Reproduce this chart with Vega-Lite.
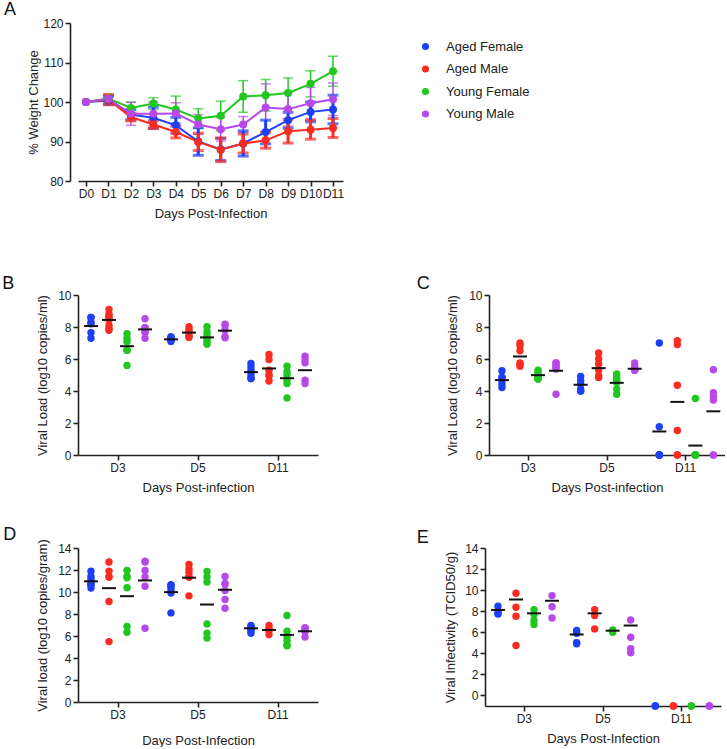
{
"$schema":"https://vega.github.io/schema/vega-lite/v6.json",
"padding":{"left":2,"top":1,"right":0,"bottom":0},
"config":{
 "font":"Liberation Sans",
 "view":{"stroke":null},
 "axis":{"domainColor":"#222","domainWidth":1.6,"tickColor":"#222","tickWidth":1.6,"tickSize":5,"labelColor":"#222","labelFontSize":12,"labelPadding":2,"titleColor":"#222","titleFontSize":13,"titleFontWeight":"normal","grid":false,"labelFont":"Liberation Sans","titleFont":"Liberation Sans"},
 "title":{"fontSize":18,"fontWeight":"normal","anchor":"start","frame":"bounds","baseline":"alphabetic","color":"#111","font":"Liberation Sans"}
},
"datasets":{
 "weight":[
  {"day":"D0","group":"Aged Female","mean":100,"sd":0},{"day":"D1","group":"Aged Female","mean":100.4,"sd":1.0},{"day":"D2","group":"Aged Female","mean":96.8,"sd":1.3},{"day":"D3","group":"Aged Female","mean":96.0,"sd":2.7},{"day":"D4","group":"Aged Female","mean":94.1,"sd":2.0},{"day":"D5","group":"Aged Female","mean":90.0,"sd":3.5},{"day":"D6","group":"Aged Female","mean":88.0,"sd":2.8},{"day":"D7","group":"Aged Female","mean":89.5,"sd":3.2},{"day":"D8","group":"Aged Female","mean":92.4,"sd":3.0},{"day":"D9","group":"Aged Female","mean":95.4,"sd":2.0},{"day":"D10","group":"Aged Female","mean":97.5,"sd":2.5},{"day":"D11","group":"Aged Female","mean":98.1,"sd":3.6},
  {"day":"D0","group":"Aged Male","mean":100,"sd":0},{"day":"D1","group":"Aged Male","mean":100.6,"sd":1.3},{"day":"D2","group":"Aged Male","mean":96.2,"sd":1.0},{"day":"D3","group":"Aged Male","mean":94.3,"sd":1.0},{"day":"D4","group":"Aged Male","mean":92.4,"sd":1.5},{"day":"D5","group":"Aged Male","mean":89.9,"sd":2.2},{"day":"D6","group":"Aged Male","mean":87.9,"sd":3.0},{"day":"D7","group":"Aged Male","mean":89.5,"sd":2.4},{"day":"D8","group":"Aged Male","mean":90.3,"sd":2.0},{"day":"D9","group":"Aged Male","mean":92.6,"sd":3.0},{"day":"D10","group":"Aged Male","mean":93.0,"sd":2.4},{"day":"D11","group":"Aged Male","mean":93.4,"sd":2.4},
  {"day":"D0","group":"Young Female","mean":100,"sd":0},{"day":"D1","group":"Young Female","mean":100.9,"sd":1.0},{"day":"D2","group":"Young Female","mean":98.5,"sd":1.5},{"day":"D3","group":"Young Female","mean":99.6,"sd":1.5},{"day":"D4","group":"Young Female","mean":98.1,"sd":3.4},{"day":"D5","group":"Young Female","mean":95.8,"sd":2.5},{"day":"D6","group":"Young Female","mean":96.5,"sd":3.7},{"day":"D7","group":"Young Female","mean":101.4,"sd":4.0},{"day":"D8","group":"Young Female","mean":101.7,"sd":4.0},{"day":"D9","group":"Young Female","mean":102.3,"sd":3.8},{"day":"D10","group":"Young Female","mean":104.6,"sd":3.3},{"day":"D11","group":"Young Female","mean":107.8,"sd":3.8},
  {"day":"D0","group":"Young Male","mean":100,"sd":0},{"day":"D1","group":"Young Male","mean":100.8,"sd":0.8},{"day":"D2","group":"Young Male","mean":97.0,"sd":2.9},{"day":"D3","group":"Young Male","mean":97.0,"sd":3.0},{"day":"D4","group":"Young Male","mean":97.1,"sd":2.7},{"day":"D5","group":"Young Male","mean":94.3,"sd":2.5},{"day":"D6","group":"Young Male","mean":93.1,"sd":3.0},{"day":"D7","group":"Young Male","mean":94.3,"sd":2.0},{"day":"D8","group":"Young Male","mean":98.6,"sd":6.0},{"day":"D9","group":"Young Male","mean":98.2,"sd":4.3},{"day":"D10","group":"Young Male","mean":99.7,"sd":4.0},{"day":"D11","group":"Young Male","mean":100.7,"sd":4.1}
 ],
 "B_pts":[
  {"day":"D3","group":"Aged Female","value":8.6},{"day":"D3","group":"Aged Female","value":8.6},{"day":"D3","group":"Aged Female","value":8.3},{"day":"D3","group":"Aged Female","value":8.2},{"day":"D3","group":"Aged Female","value":7.65},{"day":"D3","group":"Aged Female","value":7.3},
  {"day":"D3","group":"Aged Male","value":9.1},{"day":"D3","group":"Aged Male","value":8.8},{"day":"D3","group":"Aged Male","value":8.7},{"day":"D3","group":"Aged Male","value":8.55},{"day":"D3","group":"Aged Male","value":8.45},{"day":"D3","group":"Aged Male","value":8.1},{"day":"D3","group":"Aged Male","value":7.9},{"day":"D3","group":"Aged Male","value":7.8},
  {"day":"D3","group":"Young Female","value":7.3},{"day":"D3","group":"Young Female","value":7.58},{"day":"D3","group":"Young Female","value":7.08},{"day":"D3","group":"Young Female","value":6.55},{"day":"D3","group":"Young Female","value":6.55},{"day":"D3","group":"Young Female","value":5.6},
  {"day":"D3","group":"Young Male","value":8.52},{"day":"D3","group":"Young Male","value":7.96},{"day":"D3","group":"Young Male","value":7.96},{"day":"D3","group":"Young Male","value":7.7},{"day":"D3","group":"Young Male","value":7.65},{"day":"D3","group":"Young Male","value":7.3},
  {"day":"D5","group":"Aged Female","value":7.4},{"day":"D5","group":"Aged Female","value":7.3},{"day":"D5","group":"Aged Female","value":7.25},{"day":"D5","group":"Aged Female","value":7.2},{"day":"D5","group":"Aged Female","value":7.15},{"day":"D5","group":"Aged Female","value":7.1},
  {"day":"D5","group":"Aged Male","value":8.02},{"day":"D5","group":"Aged Male","value":7.81},{"day":"D5","group":"Aged Male","value":7.7},{"day":"D5","group":"Aged Male","value":7.5},{"day":"D5","group":"Aged Male","value":7.4},{"day":"D5","group":"Aged Male","value":7.35},
  {"day":"D5","group":"Young Female","value":8.02},{"day":"D5","group":"Young Female","value":7.7},{"day":"D5","group":"Young Female","value":7.5},{"day":"D5","group":"Young Female","value":7.3},{"day":"D5","group":"Young Female","value":7.2},{"day":"D5","group":"Young Female","value":7.02},{"day":"D5","group":"Young Female","value":6.92},
  {"day":"D5","group":"Young Male","value":8.08},{"day":"D5","group":"Young Male","value":8.17},{"day":"D5","group":"Young Male","value":7.8},{"day":"D5","group":"Young Male","value":7.33},{"day":"D5","group":"Young Male","value":7.4},
  {"day":"D11","group":"Aged Female","value":5.72},{"day":"D11","group":"Aged Female","value":5.51},{"day":"D11","group":"Aged Female","value":5.3},{"day":"D11","group":"Aged Female","value":5.0},{"day":"D11","group":"Aged Female","value":4.78},{"day":"D11","group":"Aged Female","value":4.78},
  {"day":"D11","group":"Aged Male","value":6.28},{"day":"D11","group":"Aged Male","value":5.97},{"day":"D11","group":"Aged Male","value":5.3},{"day":"D11","group":"Aged Male","value":5.0},{"day":"D11","group":"Aged Male","value":4.93},{"day":"D11","group":"Aged Male","value":4.63},
  {"day":"D11","group":"Young Female","value":5.2},{"day":"D11","group":"Young Female","value":5.55},{"day":"D11","group":"Young Female","value":5.0},{"day":"D11","group":"Young Female","value":4.68},{"day":"D11","group":"Young Female","value":4.47},{"day":"D11","group":"Young Female","value":3.57},
  {"day":"D11","group":"Young Male","value":6.18},{"day":"D11","group":"Young Male","value":5.97},{"day":"D11","group":"Young Male","value":5.76},{"day":"D11","group":"Young Male","value":4.47},{"day":"D11","group":"Young Male","value":4.68}
 ],
 "B_mean":[
  {"day":"D3","group":"Aged Female","value":8.06},{"day":"D3","group":"Aged Male","value":8.44},{"day":"D3","group":"Young Female","value":6.8},{"day":"D3","group":"Young Male","value":7.85},
  {"day":"D5","group":"Aged Female","value":7.23},{"day":"D5","group":"Aged Male","value":7.65},{"day":"D5","group":"Young Female","value":7.35},{"day":"D5","group":"Young Male","value":7.77},
  {"day":"D11","group":"Aged Female","value":5.18},{"day":"D11","group":"Aged Male","value":5.41},{"day":"D11","group":"Young Female","value":4.8},{"day":"D11","group":"Young Male","value":5.3}
 ],
 "C_pts":[
  {"day":"D3","group":"Aged Female","value":5.27},{"day":"D3","group":"Aged Female","value":4.85},{"day":"D3","group":"Aged Female","value":4.85},{"day":"D3","group":"Aged Female","value":4.64},{"day":"D3","group":"Aged Female","value":4.43},{"day":"D3","group":"Aged Female","value":4.22},
  {"day":"D3","group":"Aged Male","value":7.0},{"day":"D3","group":"Aged Male","value":6.84},{"day":"D3","group":"Aged Male","value":6.52},{"day":"D3","group":"Aged Male","value":5.75},{"day":"D3","group":"Aged Male","value":5.65},{"day":"D3","group":"Aged Male","value":5.55},
  {"day":"D3","group":"Young Female","value":5.3},{"day":"D3","group":"Young Female","value":5.2},{"day":"D3","group":"Young Female","value":5.0},{"day":"D3","group":"Young Female","value":4.9},{"day":"D3","group":"Young Female","value":4.8},{"day":"D3","group":"Young Female","value":4.75},{"day":"D3","group":"Young Female","value":4.75},
  {"day":"D3","group":"Young Male","value":5.75},{"day":"D3","group":"Young Male","value":5.75},{"day":"D3","group":"Young Male","value":5.58},{"day":"D3","group":"Young Male","value":5.48},{"day":"D3","group":"Young Male","value":5.37},{"day":"D3","group":"Young Male","value":3.8},
  {"day":"D5","group":"Aged Female","value":4.91},{"day":"D5","group":"Aged Female","value":4.64},{"day":"D5","group":"Aged Female","value":4.43},{"day":"D5","group":"Aged Female","value":4.11},{"day":"D5","group":"Aged Female","value":4.0},{"day":"D5","group":"Aged Female","value":4.0},
  {"day":"D5","group":"Aged Male","value":6.38},{"day":"D5","group":"Aged Male","value":6.0},{"day":"D5","group":"Aged Male","value":5.69},{"day":"D5","group":"Aged Male","value":5.31},{"day":"D5","group":"Aged Male","value":4.85},{"day":"D5","group":"Aged Male","value":4.95},
  {"day":"D5","group":"Young Female","value":5.06},{"day":"D5","group":"Young Female","value":4.85},{"day":"D5","group":"Young Female","value":4.64},{"day":"D5","group":"Young Female","value":4.53},{"day":"D5","group":"Young Female","value":4.11},{"day":"D5","group":"Young Female","value":3.8},
  {"day":"D5","group":"Young Male","value":5.75},{"day":"D5","group":"Young Male","value":5.5},{"day":"D5","group":"Young Male","value":5.4},{"day":"D5","group":"Young Male","value":5.3},{"day":"D5","group":"Young Male","value":5.3},
  {"day":"D11","group":"Aged Female","value":7.0},{"day":"D11","group":"Aged Female","value":1.77},{"day":"D11","group":"Aged Female","value":0},{"day":"D11","group":"Aged Female","value":0},{"day":"D11","group":"Aged Female","value":0},{"day":"D11","group":"Aged Female","value":0},
  {"day":"D11","group":"Aged Male","value":6.9},{"day":"D11","group":"Aged Male","value":7.15},{"day":"D11","group":"Aged Male","value":4.36},{"day":"D11","group":"Aged Male","value":1.53},{"day":"D11","group":"Aged Male","value":0},{"day":"D11","group":"Aged Male","value":0},
  {"day":"D11","group":"Young Female","value":3.53},{"day":"D11","group":"Young Female","value":0},{"day":"D11","group":"Young Female","value":0},{"day":"D11","group":"Young Female","value":0},{"day":"D11","group":"Young Female","value":0},{"day":"D11","group":"Young Female","value":0},
  {"day":"D11","group":"Young Male","value":5.33},{"day":"D11","group":"Young Male","value":3.9},{"day":"D11","group":"Young Male","value":3.65},{"day":"D11","group":"Young Male","value":3.44},{"day":"D11","group":"Young Male","value":0},{"day":"D11","group":"Young Male","value":0}
 ],
 "C_mean":[
  {"day":"D3","group":"Aged Female","value":4.68},{"day":"D3","group":"Aged Male","value":6.15},{"day":"D3","group":"Young Female","value":4.99},{"day":"D3","group":"Young Male","value":5.27},
  {"day":"D5","group":"Aged Female","value":4.39},{"day":"D5","group":"Aged Male","value":5.43},{"day":"D5","group":"Young Female","value":4.51},{"day":"D5","group":"Young Male","value":5.39},
  {"day":"D11","group":"Aged Female","value":1.47},{"day":"D11","group":"Aged Male","value":3.32},{"day":"D11","group":"Young Female","value":0.59},{"day":"D11","group":"Young Male","value":2.73}
 ],
 "D_pts":[
  {"day":"D3","group":"Aged Female","value":11.88},{"day":"D3","group":"Aged Female","value":11.42},{"day":"D3","group":"Aged Female","value":11.12},{"day":"D3","group":"Aged Female","value":10.97},{"day":"D3","group":"Aged Female","value":10.67},{"day":"D3","group":"Aged Female","value":10.36},{"day":"D3","group":"Aged Female","value":10.7},
  {"day":"D3","group":"Aged Male","value":12.72},{"day":"D3","group":"Aged Male","value":11.9},{"day":"D3","group":"Aged Male","value":11.36},{"day":"D3","group":"Aged Male","value":11.36},{"day":"D3","group":"Aged Male","value":9.14},{"day":"D3","group":"Aged Male","value":5.49},
  {"day":"D3","group":"Young Female","value":11.42},{"day":"D3","group":"Young Female","value":11.96},{"day":"D3","group":"Young Female","value":11.3},{"day":"D3","group":"Young Female","value":10.38},{"day":"D3","group":"Young Female","value":6.86},{"day":"D3","group":"Young Female","value":6.34},
  {"day":"D3","group":"Young Male","value":12.72},{"day":"D3","group":"Young Male","value":12.81},{"day":"D3","group":"Young Male","value":11.96},{"day":"D3","group":"Young Male","value":11.36},{"day":"D3","group":"Young Male","value":10.53},{"day":"D3","group":"Young Male","value":6.71},
  {"day":"D5","group":"Aged Female","value":10.66},{"day":"D5","group":"Aged Female","value":10.6},{"day":"D5","group":"Aged Female","value":10.44},{"day":"D5","group":"Aged Female","value":10.14},{"day":"D5","group":"Aged Female","value":9.9},{"day":"D5","group":"Aged Female","value":8.1},
  {"day":"D5","group":"Aged Male","value":12.5},{"day":"D5","group":"Aged Male","value":12.1},{"day":"D5","group":"Aged Male","value":11.8},{"day":"D5","group":"Aged Male","value":11.36},{"day":"D5","group":"Aged Male","value":11.36},{"day":"D5","group":"Aged Male","value":9.65},
  {"day":"D5","group":"Young Female","value":11.36},{"day":"D5","group":"Young Female","value":11.87},{"day":"D5","group":"Young Female","value":10.9},{"day":"D5","group":"Young Female","value":7.1},{"day":"D5","group":"Young Female","value":5.82},{"day":"D5","group":"Young Female","value":6.25},
  {"day":"D5","group":"Young Male","value":11.42},{"day":"D5","group":"Young Male","value":10.75},{"day":"D5","group":"Young Male","value":10.75},{"day":"D5","group":"Young Male","value":10.14},{"day":"D5","group":"Young Male","value":9.32},{"day":"D5","group":"Young Male","value":8.53},
  {"day":"D11","group":"Aged Female","value":6.95},{"day":"D11","group":"Aged Female","value":6.85},{"day":"D11","group":"Aged Female","value":6.7},{"day":"D11","group":"Aged Female","value":6.6},{"day":"D11","group":"Aged Female","value":6.45},{"day":"D11","group":"Aged Female","value":6.25},
  {"day":"D11","group":"Aged Male","value":6.95},{"day":"D11","group":"Aged Male","value":6.64},{"day":"D11","group":"Aged Male","value":6.55},{"day":"D11","group":"Aged Male","value":6.13},{"day":"D11","group":"Aged Male","value":6.5},
  {"day":"D11","group":"Young Female","value":7.86},{"day":"D11","group":"Young Female","value":6.43},{"day":"D11","group":"Young Female","value":5.95},{"day":"D11","group":"Young Female","value":5.58},{"day":"D11","group":"Young Female","value":5.19},{"day":"D11","group":"Young Female","value":5.12},
  {"day":"D11","group":"Young Male","value":6.75},{"day":"D11","group":"Young Male","value":6.7},{"day":"D11","group":"Young Male","value":6.5},{"day":"D11","group":"Young Male","value":6.4},{"day":"D11","group":"Young Male","value":5.9}
 ],
 "D_mean":[
  {"day":"D3","group":"Aged Female","value":10.97},{"day":"D3","group":"Aged Male","value":10.35},{"day":"D3","group":"Young Female","value":9.62},{"day":"D3","group":"Young Male","value":11.05},
  {"day":"D5","group":"Aged Female","value":9.99},{"day":"D5","group":"Aged Male","value":11.3},{"day":"D5","group":"Young Female","value":8.86},{"day":"D5","group":"Young Male","value":10.2},
  {"day":"D11","group":"Aged Female","value":6.7},{"day":"D11","group":"Aged Male","value":6.55},{"day":"D11","group":"Young Female","value":6.1},{"day":"D11","group":"Young Male","value":6.43}
 ],
 "E_pts":[
  {"day":"D3","group":"Aged Female","value":8.47},{"day":"D3","group":"Aged Female","value":7.74},{"day":"D3","group":"Aged Female","value":7.84},
  {"day":"D3","group":"Aged Male","value":9.7},{"day":"D3","group":"Aged Male","value":8.37},{"day":"D3","group":"Aged Male","value":7.52},{"day":"D3","group":"Aged Male","value":4.74},
  {"day":"D3","group":"Young Female","value":8.15},{"day":"D3","group":"Young Female","value":7.68},{"day":"D3","group":"Young Female","value":7.11},{"day":"D3","group":"Young Female","value":6.73},
  {"day":"D3","group":"Young Male","value":9.48},{"day":"D3","group":"Young Male","value":8.43},{"day":"D3","group":"Young Male","value":7.36},
  {"day":"D5","group":"Aged Female","value":5.91},{"day":"D5","group":"Aged Female","value":6.16},{"day":"D5","group":"Aged Female","value":4.9},{"day":"D5","group":"Aged Female","value":5.0},
  {"day":"D5","group":"Aged Male","value":8.15},{"day":"D5","group":"Aged Male","value":7.58},{"day":"D5","group":"Aged Male","value":6.32},
  {"day":"D5","group":"Young Female","value":6.0},{"day":"D5","group":"Young Female","value":6.23},
  {"day":"D5","group":"Young Male","value":7.17},{"day":"D5","group":"Young Male","value":5.53},{"day":"D5","group":"Young Male","value":4.43},{"day":"D5","group":"Young Male","value":4.05},
  {"day":"D11","group":"Aged Female","value":-1},{"day":"D11","group":"Aged Female","value":-1},
  {"day":"D11","group":"Aged Male","value":-1},{"day":"D11","group":"Aged Male","value":-1},
  {"day":"D11","group":"Young Female","value":-1},{"day":"D11","group":"Young Female","value":-1},
  {"day":"D11","group":"Young Male","value":-1},{"day":"D11","group":"Young Male","value":-1}
 ],
 "E_mean":[
  {"day":"D3","group":"Aged Female","value":8.12},{"day":"D3","group":"Aged Male","value":9.1},{"day":"D3","group":"Young Female","value":7.8},{"day":"D3","group":"Young Male","value":9.0},
  {"day":"D5","group":"Aged Female","value":5.79},{"day":"D5","group":"Aged Male","value":7.8},{"day":"D5","group":"Young Female","value":6.15},{"day":"D5","group":"Young Male","value":6.64}
 ]
},
"resolve":{"scale":{"color":"independent"}},
"spacing":55,
"vconcat":[
 {"hconcat":[
 {
  "width":265,"height":158,
  "title":{"text":"A","dx":-24,"offset":-2},
  "data":{"name":"weight"},
  "encoding":{
   "x":{"field":"day","type":"ordinal","sort":["D0","D1","D2","D3","D4","D5","D6","D7","D8","D9","D10","D11"],"scale":{"type":"point","padding":0.4,"align":0.444},"axis":{"labelAngle":0,"title":"Days Post-Infection","titlePadding":8}},
   "y":{"field":"mean","type":"quantitative","scale":{"domain":[80,120],"nice":false,"zero":false},"axis":{"values":[80,90,100,110,120],"title":"% Weight Change","titlePadding":2,"offset":8}},
   "color":{"field":"group","type":"nominal","scale":{"domain":["Aged Female","Aged Male","Young Female","Young Male"],"range":["#1d3ff5","#fa2b1f","#1fc71f","#b848ea"]},"legend":{"orient":"none","legendX":341,"legendY":17,"title":null,"symbolType":"circle","symbolSize":50,"symbolStrokeWidth":0,"symbolOpacity":1,"labelFontSize":13,"labelOffset":14,"rowPadding":8.5,"padding":0,"labelColor":"#222"}}
  },
  "layer":[
   {"transform":[{"filter":"datum.sd > 0 && (datum.group === 'Young Female' || datum.group === 'Young Male')"}],"mark":{"type":"errorbar","thickness":1.5,"ticks":{"size":10}},"encoding":{"yError":{"field":"sd"}}},
   {"transform":[{"filter":"datum.sd > 0 && (datum.group === 'Aged Female' || datum.group === 'Aged Male')"}],"mark":{"type":"errorbar","thickness":3,"ticks":{"size":11}},"encoding":{"yError":{"field":"sd"}}},
   {"mark":{"type":"line","strokeWidth":2}},
   {"mark":{"type":"point","filled":true,"size":64,"opacity":1}}
  ]
 }]},
 {
  "spacing":31,
  "vconcat":[
   {
    "spacing":98,
    "hconcat":[
     {
      "width":240,"height":160,
      "title":{"text":"B","dx":-34.5,"offset":-4},
      "encoding":{
       "x":{"field":"day","type":"nominal","sort":["D3","D5","D11"],"scale":{"paddingInner":0,"paddingOuter":0},"axis":{"labelAngle":0,"title":"Days Post-infection","titlePadding":8}},
       "xOffset":{"field":"group","type":"nominal","sort":["Aged Female","Aged Male","Young Female","Young Male"],"scale":{"paddingInner":0,"paddingOuter":0.22}},
       "y":{"field":"value","type":"quantitative","scale":{"domain":[0,10],"nice":false},"axis":{"values":[0,2,4,6,8,10],"title":"Viral Load (log10 copies/ml)","titlePadding":8}}
      },
      "layer":[
       {"data":{"name":"B_pts"},"mark":{"type":"circle","size":55,"opacity":1},"encoding":{"color":{"field":"group","type":"nominal","scale":{"domain":["Aged Female","Aged Male","Young Female","Young Male"],"range":["#1d3ff5","#fa2b1f","#1fc71f","#b848ea"]},"legend":null}}},
       {"data":{"name":"B_mean"},"mark":{"type":"tick","color":"#111","opacity":1,"thickness":2,"size":14}}
      ]
     },
     {
      "width":236,"height":160,
      "title":{"text":"C","dx":-30,"offset":-4},
      "encoding":{
       "x":{"field":"day","type":"nominal","sort":["D3","D5","D11"],"scale":{"paddingInner":0,"paddingOuter":0},"axis":{"labelAngle":0,"title":"Days Post-infection","titlePadding":8}},
       "xOffset":{"field":"group","type":"nominal","sort":["Aged Female","Aged Male","Young Female","Young Male"],"scale":{"paddingInner":0,"paddingOuter":0.22}},
       "y":{"field":"value","type":"quantitative","scale":{"domain":[0,10],"nice":false},"axis":{"values":[0,2,4,6,8,10],"title":"Viral Load (log10 copies/ml)","titlePadding":9}}
      },
      "layer":[
       {"data":{"name":"C_pts"},"mark":{"type":"circle","size":55,"opacity":1},"encoding":{"color":{"field":"group","type":"nominal","scale":{"domain":["Aged Female","Aged Male","Young Female","Young Male"],"range":["#1d3ff5","#fa2b1f","#1fc71f","#b848ea"]},"legend":null}}},
       {"data":{"name":"C_mean"},"mark":{"type":"tick","color":"#111","opacity":1,"thickness":2,"size":14}}
      ]
     }
    ]
   },
   {
    "spacing":98,
    "hconcat":[
     {
      "width":240,"height":154,
      "title":{"text":"D","dx":-33.5,"offset":-5},
      "encoding":{
       "x":{"field":"day","type":"nominal","sort":["D3","D5","D11"],"scale":{"paddingInner":0,"paddingOuter":0},"axis":{"labelAngle":0,"title":"Days Post-Infection","titlePadding":14}},
       "xOffset":{"field":"group","type":"nominal","sort":["Aged Female","Aged Male","Young Female","Young Male"],"scale":{"paddingInner":0,"paddingOuter":0.22}},
       "y":{"field":"value","type":"quantitative","scale":{"domain":[0,14],"nice":false},"axis":{"values":[0,2,4,6,8,10,12,14],"title":"Viral load (log10 copies/gram)","titlePadding":8}}
      },
      "layer":[
       {"data":{"name":"D_pts"},"mark":{"type":"circle","size":55,"opacity":1},"encoding":{"color":{"field":"group","type":"nominal","scale":{"domain":["Aged Female","Aged Male","Young Female","Young Male"],"range":["#1d3ff5","#fa2b1f","#1fc71f","#b848ea"]},"legend":null}}},
       {"data":{"name":"D_mean"},"mark":{"type":"tick","color":"#111","opacity":1,"thickness":2,"size":14}}
      ]
     },
     {
      "width":236,"height":158,
      "title":{"text":"E","dx":-28,"offset":-5},
      "encoding":{
       "x":{"field":"day","type":"nominal","sort":["D3","D5","D11"],"scale":{"paddingInner":0,"paddingOuter":0},"axis":{"labelAngle":0,"title":"Days Post-Infection","titlePadding":8}},
       "xOffset":{"field":"group","type":"nominal","sort":["Aged Female","Aged Male","Young Female","Young Male"],"scale":{"paddingInner":0,"paddingOuter":0.22}},
       "y":{"field":"value","type":"quantitative","scale":{"domain":[-1,14],"nice":false,"zero":false},"axis":{"values":[0,2,4,6,8,10,12,14],"title":"Viral Infectivity (TCID50/g)","titlePadding":7}}
      },
      "layer":[
       {"data":{"name":"E_pts"},"mark":{"type":"circle","size":55,"opacity":1},"encoding":{"color":{"field":"group","type":"nominal","scale":{"domain":["Aged Female","Aged Male","Young Female","Young Male"],"range":["#1d3ff5","#fa2b1f","#1fc71f","#b848ea"]},"legend":null}}},
       {"data":{"name":"E_mean"},"mark":{"type":"tick","color":"#111","opacity":1,"thickness":2,"size":14}}
      ]
     }
    ]
   }
  ]
 }
]
}
